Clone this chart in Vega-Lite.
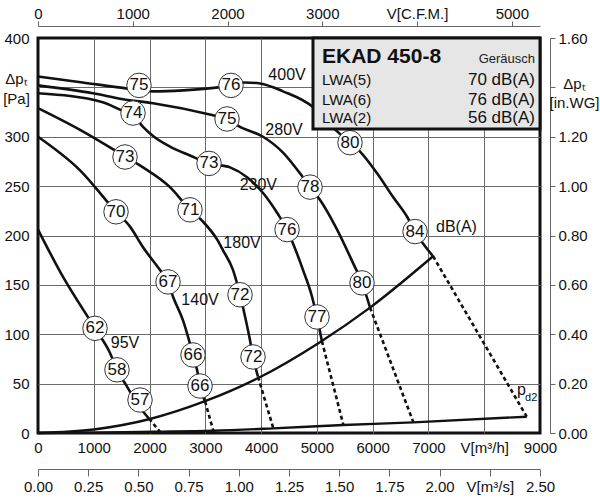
{
  "$schema": "https://vega.github.io/schema/vega-lite/v6.json",
  "width": 502,
  "height": 395,
  "autosize": {"type": "none"},
  "padding": {"left": 38, "top": 38, "right": 60, "bottom": 67},
  "background": "white",
  "config": {
    "font": "Liberation Sans",
    "view": {"stroke": "#111", "strokeWidth": 3},
    "axis": {
      "labelFont": "Liberation Sans", "labelFontSize": 15, "labelColor": "#111",
      "titleFont": "Liberation Sans", "titleFontWeight": "normal", "titleColor": "#111", "titleFontSize": 15,
      "domainColor": "#666", "tickColor": "#666", "domainWidth": 1, "tickWidth": 1,
      "labelOverlap": false, "labelFlush": false, "labelBound": false
    }
  },
  "datasets": {
    "curves": [
      {"c": "400V", "Q": 0, "Pa": 361}, {"c": "400V", "Q": 800, "Pa": 355}, {"c": "400V", "Q": 1578, "Pa": 349}, {"c": "400V", "Q": 2062, "Pa": 346}, {"c": "400V", "Q": 2600, "Pa": 347}, {"c": "400V", "Q": 3228, "Pa": 350}, {"c": "400V", "Q": 3710, "Pa": 355}, {"c": "400V", "Q": 3980, "Pa": 354}, {"c": "400V", "Q": 4393, "Pa": 346}, {"c": "400V", "Q": 4930, "Pa": 330}, {"c": "400V", "Q": 5236, "Pa": 312}, {"c": "400V", "Q": 5594, "Pa": 294}, {"c": "400V", "Q": 5774, "Pa": 285}, {"c": "400V", "Q": 6079, "Pa": 263}, {"c": "400V", "Q": 6366, "Pa": 239}, {"c": "400V", "Q": 6617, "Pa": 219}, {"c": "400V", "Q": 6760, "Pa": 204}, {"c": "400V", "Q": 7083, "Pa": 179},
      {"c": "280V", "Q": 0, "Pa": 352}, {"c": "280V", "Q": 986, "Pa": 344}, {"c": "280V", "Q": 1524, "Pa": 338}, {"c": "280V", "Q": 2062, "Pa": 334}, {"c": "280V", "Q": 3120, "Pa": 322}, {"c": "280V", "Q": 3389, "Pa": 318}, {"c": "280V", "Q": 3622, "Pa": 310}, {"c": "280V", "Q": 4035, "Pa": 300}, {"c": "280V", "Q": 4393, "Pa": 284}, {"c": "280V", "Q": 4697, "Pa": 263}, {"c": "280V", "Q": 4877, "Pa": 249}, {"c": "280V", "Q": 5057, "Pa": 236}, {"c": "280V", "Q": 5362, "Pa": 206}, {"c": "280V", "Q": 5649, "Pa": 172}, {"c": "280V", "Q": 5810, "Pa": 152}, {"c": "280V", "Q": 5953, "Pa": 127},
      {"c": "230V", "Q": 0, "Pa": 344}, {"c": "230V", "Q": 1160, "Pa": 335}, {"c": "230V", "Q": 1488, "Pa": 327}, {"c": "230V", "Q": 1703, "Pa": 322}, {"c": "230V", "Q": 1883, "Pa": 310}, {"c": "230V", "Q": 2080, "Pa": 300}, {"c": "230V", "Q": 2367, "Pa": 290}, {"c": "230V", "Q": 2725, "Pa": 281}, {"c": "230V", "Q": 3066, "Pa": 273}, {"c": "230V", "Q": 3443, "Pa": 269}, {"c": "230V", "Q": 3748, "Pa": 259}, {"c": "230V", "Q": 4035, "Pa": 243}, {"c": "230V", "Q": 4286, "Pa": 223}, {"c": "230V", "Q": 4465, "Pa": 206}, {"c": "230V", "Q": 4572, "Pa": 192}, {"c": "230V", "Q": 4752, "Pa": 165}, {"c": "230V", "Q": 4913, "Pa": 138}, {"c": "230V", "Q": 5003, "Pa": 117}, {"c": "230V", "Q": 5090, "Pa": 93},
      {"c": "180V", "Q": 0, "Pa": 329}, {"c": "180V", "Q": 754, "Pa": 307}, {"c": "180V", "Q": 1560, "Pa": 280}, {"c": "180V", "Q": 1883, "Pa": 269}, {"c": "180V", "Q": 2367, "Pa": 249}, {"c": "180V", "Q": 2725, "Pa": 226}, {"c": "180V", "Q": 2958, "Pa": 214}, {"c": "180V", "Q": 3210, "Pa": 196}, {"c": "180V", "Q": 3317, "Pa": 185}, {"c": "180V", "Q": 3497, "Pa": 165}, {"c": "180V", "Q": 3622, "Pa": 140}, {"c": "180V", "Q": 3712, "Pa": 118}, {"c": "180V", "Q": 3801, "Pa": 94}, {"c": "180V", "Q": 3855, "Pa": 77}, {"c": "180V", "Q": 3945, "Pa": 57},
      {"c": "140V", "Q": 0, "Pa": 300}, {"c": "140V", "Q": 754, "Pa": 266}, {"c": "140V", "Q": 1399, "Pa": 224}, {"c": "140V", "Q": 1650, "Pa": 209}, {"c": "140V", "Q": 1883, "Pa": 188}, {"c": "140V", "Q": 2188, "Pa": 165}, {"c": "140V", "Q": 2331, "Pa": 153}, {"c": "140V", "Q": 2421, "Pa": 138}, {"c": "140V", "Q": 2600, "Pa": 114}, {"c": "140V", "Q": 2707, "Pa": 94}, {"c": "140V", "Q": 2779, "Pa": 79}, {"c": "140V", "Q": 2851, "Pa": 64}, {"c": "140V", "Q": 2905, "Pa": 48}, {"c": "140V", "Q": 2995, "Pa": 32},
      {"c": "95V", "Q": 0, "Pa": 206}, {"c": "95V", "Q": 449, "Pa": 158}, {"c": "95V", "Q": 1022, "Pa": 106}, {"c": "95V", "Q": 1291, "Pa": 81}, {"c": "95V", "Q": 1416, "Pa": 64}, {"c": "95V", "Q": 1596, "Pa": 47}, {"c": "95V", "Q": 1775, "Pa": 30}, {"c": "95V", "Q": 1990, "Pa": 14.5}
    ],
    "dashes": [
      {"c": "95V", "Q": 1990, "Pa": 14.5}, {"c": "95V", "Q": 2187, "Pa": 1.3},
      {"c": "140V", "Q": 2995, "Pa": 32}, {"c": "140V", "Q": 3143, "Pa": 2.3},
      {"c": "180V", "Q": 3945, "Pa": 57}, {"c": "180V", "Q": 4219, "Pa": 4.7},
      {"c": "230V", "Q": 5090, "Pa": 93}, {"c": "230V", "Q": 5475, "Pa": 8.1},
      {"c": "280V", "Q": 5953, "Pa": 127}, {"c": "280V", "Q": 6730, "Pa": 10.8},
      {"c": "400V", "Q": 7083, "Pa": 179}, {"c": "400V", "Q": 8762, "Pa": 16.5}
    ],
    "system": [
      {"c": "sys", "Q": 0, "Pa": 0}, {"c": "sys", "Q": 1000, "Pa": 3.6}, {"c": "sys", "Q": 2008, "Pa": 14.2}, {"c": "sys", "Q": 2994, "Pa": 32.2}, {"c": "sys", "Q": 3958, "Pa": 56}, {"c": "sys", "Q": 5027, "Pa": 91}, {"c": "sys", "Q": 5953, "Pa": 127}, {"c": "sys", "Q": 7083, "Pa": 179},
      {"c": "pd2", "Q": 0, "Pa": 0}, {"c": "pd2", "Q": 1000, "Pa": 0.4}, {"c": "pd2", "Q": 2187, "Pa": 1.3}, {"c": "pd2", "Q": 3143, "Pa": 2.3}, {"c": "pd2", "Q": 4219, "Pa": 4.7}, {"c": "pd2", "Q": 5475, "Pa": 8.1}, {"c": "pd2", "Q": 6730, "Pa": 10.8}, {"c": "pd2", "Q": 8762, "Pa": 16.5}
    ],
    "circles": [
      {"c": "400V", "Q": 1811, "Pa": 352, "t": "75"}, {"c": "400V", "Q": 3460, "Pa": 352, "t": "76"}, {"c": "400V", "Q": 5594, "Pa": 294, "t": "80"}, {"c": "400V", "Q": 6760, "Pa": 204, "t": "84"},
      {"c": "280V", "Q": 3389, "Pa": 318, "t": "75"}, {"c": "280V", "Q": 4877, "Pa": 249, "t": "78"}, {"c": "280V", "Q": 5809, "Pa": 152, "t": "80"},
      {"c": "230V", "Q": 1703, "Pa": 324, "t": "74"}, {"c": "230V", "Q": 3066, "Pa": 273, "t": "73"}, {"c": "230V", "Q": 4465, "Pa": 206, "t": "76"}, {"c": "230V", "Q": 5002, "Pa": 117.5, "t": "77"},
      {"c": "180V", "Q": 1560, "Pa": 279.5, "t": "73"}, {"c": "180V", "Q": 2725, "Pa": 226, "t": "71"}, {"c": "180V", "Q": 3622, "Pa": 140, "t": "72"}, {"c": "180V", "Q": 3855, "Pa": 77, "t": "72"},
      {"c": "140V", "Q": 1399, "Pa": 224, "t": "70"}, {"c": "140V", "Q": 2331, "Pa": 153, "t": "67"}, {"c": "140V", "Q": 2779, "Pa": 79, "t": "66"}, {"c": "140V", "Q": 2905, "Pa": 47.6, "t": "66"},
      {"c": "95V", "Q": 1022, "Pa": 106, "t": "62"}, {"c": "95V", "Q": 1416, "Pa": 64, "t": "58"}, {"c": "95V", "Q": 1829, "Pa": 33.4, "t": "57"}
    ],
    "voltages": [
      {"t": "400V", "Q": 4465, "Pa": 362.5}, {"t": "280V", "Q": 4411, "Pa": 306.8}, {"t": "230V", "Q": 3950, "Pa": 251}, {"t": "180V", "Q": 3658, "Pa": 192.4}, {"t": "140V", "Q": 2905, "Pa": 134.7}, {"t": "95V", "Q": 1560, "Pa": 90.8}
    ],
    "notesLeft": [
      {"t": "dB(A)", "Q": 7136, "Pa": 208.6}, {"t": "p", "Q": 8588, "Pa": 43.2}
    ],
    "notesSmall": [
      {"t": "d2", "Q": 8732, "Pa": 35.4}
    ],
    "box": [
      {"Q": 4930, "Q2": 9000, "Pa": 307.8, "Pa2": 400}
    ],
    "boxTitle": [{"t": "EKAD 450-8", "Q": 5092, "Pa": 381}],
    "boxSub": [{"t": "Geräusch", "Q": 8911, "Pa": 378.4}],
    "boxRowsL": [
      {"t": "LWA(5)", "Q": 5092, "Pa": 357.5}, {"t": "LWA(6)", "Q": 5092, "Pa": 337.2}, {"t": "LWA(2)", "Q": 5092, "Pa": 318.7}
    ],
    "boxRowsR": [
      {"t": "70 dB(A)", "Q": 8911, "Pa": 357.5}, {"t": "76 dB(A)", "Q": 8911, "Pa": 337.2}, {"t": "56 dB(A)", "Q": 8911, "Pa": 318.7}
    ]
  },
  "layer": [
    {
      "encoding": {
        "x": {
          "field": "Q", "type": "quantitative",
          "scale": {"domain": [0, 9000], "nice": false, "zero": false},
          "axis": {
            "orient": "bottom", "values": [0, 1000, 2000, 3000, 4000, 5000, 6000, 7000, 8000, 9000],
            "format": "d", "labelExpr": "datum.value == 8000 ? 'V[m³/h]' : datum.label",
            "ticks": false, "domain": false, "labelPadding": 7, "title": null,
            "grid": true, "gridColor": "#6a6a6a", "gridWidth": 1,
            "gridOpacity": {"condition": {"test": "datum.value == 0 || datum.value == 9000", "value": 0}, "value": 1}
          }
        },
        "y": {
          "field": "Pa", "type": "quantitative",
          "scale": {"domain": [0, 400], "nice": false, "zero": false},
          "axis": {
            "orient": "left", "values": [0, 50, 100, 150, 200, 250, 300, 350, 400],
            "format": "d", "labelExpr": "datum.value == 350 ? '' : datum.label",
            "ticks": false, "domain": false, "labelPadding": 9,
            "title": ["Δpₜ", "[Pa]"], "titleAngle": 0, "titleAlign": "center", "titleBaseline": "alphabetic",
            "titleX": -22, "titleY": 45, "titleLineHeight": 20,
            "grid": true, "gridColor": "#6a6a6a", "gridWidth": 1,
            "gridOpacity": {"condition": {"test": "datum.value == 0 || datum.value == 400", "value": 0}, "value": 1}
          }
        }
      },
      "layer": [
        {"data": {"name": "system"}, "mark": {"type": "line", "color": "#111", "strokeWidth": 2.4, "interpolate": "monotone"}, "encoding": {"detail": {"field": "c"}}},
        {"data": {"name": "dashes"}, "mark": {"type": "line", "color": "#111", "strokeWidth": 2.6, "strokeDash": [4, 3]}, "encoding": {"detail": {"field": "c"}}},
        {"data": {"name": "curves"}, "mark": {"type": "line", "color": "#111", "strokeWidth": 2.6, "interpolate": "monotone"}, "encoding": {"detail": {"field": "c"}}},
        {"data": {"name": "circles"}, "mark": {"type": "point", "shape": "circle", "filled": true, "fill": "white", "stroke": "#333", "strokeWidth": 1, "size": 600, "opacity": 1}},
        {"data": {"name": "circles"}, "mark": {"type": "text", "fontSize": 17, "align": "center", "baseline": "middle", "color": "#111"}, "encoding": {"text": {"field": "t"}}},
        {"data": {"name": "voltages"}, "mark": {"type": "text", "fontSize": 16, "align": "center", "baseline": "middle", "color": "#111"}, "encoding": {"text": {"field": "t"}}},
        {"data": {"name": "notesLeft"}, "mark": {"type": "text", "fontSize": 16, "align": "left", "baseline": "middle", "color": "#111"}, "encoding": {"text": {"field": "t"}}},
        {"data": {"name": "notesSmall"}, "mark": {"type": "text", "fontSize": 11, "align": "left", "baseline": "middle", "color": "#111"}, "encoding": {"text": {"field": "t"}}},
        {"data": {"name": "box"}, "mark": {"type": "rect", "fill": "#e6e6e6", "stroke": "#111", "strokeWidth": 3}, "encoding": {"x2": {"field": "Q2"}, "y2": {"field": "Pa2"}}},
        {"data": {"name": "boxTitle"}, "mark": {"type": "text", "fontSize": 21, "fontWeight": "bold", "align": "left", "baseline": "middle", "color": "#111"}, "encoding": {"text": {"field": "t"}}},
        {"data": {"name": "boxSub"}, "mark": {"type": "text", "fontSize": 13, "align": "right", "baseline": "middle", "color": "#222"}, "encoding": {"text": {"field": "t"}}},
        {"data": {"name": "boxRowsL"}, "mark": {"type": "text", "fontSize": 15, "align": "left", "baseline": "middle", "color": "#111"}, "encoding": {"text": {"field": "t"}}},
        {"data": {"name": "boxRowsR"}, "mark": {"type": "text", "fontSize": 17, "align": "right", "baseline": "middle", "color": "#111"}, "encoding": {"text": {"field": "t"}}}
      ]
    },
    {
      "data": {"values": [{"cfm": 0}, {"cfm": 5000}]},
      "mark": {"type": "point", "opacity": 0},
      "encoding": {
        "x": {
          "field": "cfm", "type": "quantitative",
          "scale": {"domain": [0, 5297.2], "nice": false, "zero": false},
          "axis": {
            "orient": "top", "offset": 12, "values": [0, 1000, 2000, 3000, 4000, 5000],
            "format": "d", "labelExpr": "datum.value == 4000 ? 'V[C.F.M.]' : datum.label",
            "tickSize": 5, "labelPadding": 0, "title": null, "grid": false
          }
        }
      }
    },
    {
      "data": {"values": [{"ms": 0}, {"ms": 2.5}]},
      "mark": {"type": "point", "opacity": 0},
      "encoding": {
        "x": {
          "field": "ms", "type": "quantitative",
          "scale": {"domain": [0, 2.5], "nice": false, "zero": false},
          "axis": {
            "orient": "bottom", "offset": 36, "values": [0, 0.25, 0.5, 0.75, 1, 1.25, 1.5, 1.75, 2, 2.25, 2.5],
            "format": ".2f", "labelExpr": "datum.value > 2.2 && datum.value < 2.3 ? 'V[m³/s]' : datum.label",
            "tickSize": 7, "labelPadding": 3, "title": null, "grid": false
          }
        }
      }
    },
    {
      "data": {"values": [{"inwg": 0}, {"inwg": 1.6}]},
      "mark": {"type": "point", "opacity": 0},
      "encoding": {
        "y": {
          "field": "inwg", "type": "quantitative",
          "scale": {"domain": [0, 1.6], "nice": false, "zero": false},
          "axis": {
            "orient": "right", "offset": 10, "values": [0, 0.2, 0.4, 0.6, 0.8, 1, 1.2, 1.4, 1.6],
            "format": ".2f", "labelExpr": "datum.value > 1.39 && datum.value < 1.41 ? '' : datum.label",
            "tickSize": 5, "labelPadding": 3, "grid": false,
            "title": ["Δpₜ", "[in.WG]"], "titleAngle": 0, "titleAlign": "center", "titleBaseline": "alphabetic",
            "titleX": 24, "titleY": 50, "titleLineHeight": 19
          }
        }
      }
    }
  ],
  "resolve": {
    "scale": {"x": "independent", "y": "independent"},
    "axis": {"x": "independent", "y": "independent"}
  }
}
